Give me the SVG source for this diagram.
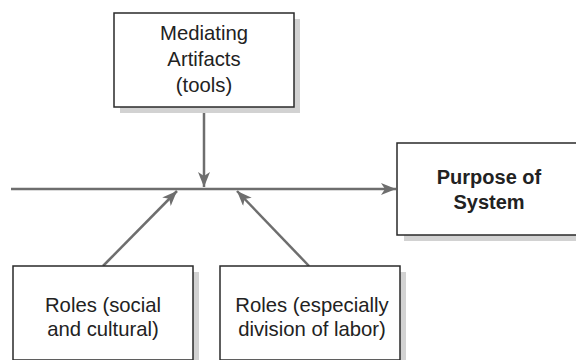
<svg xmlns="http://www.w3.org/2000/svg" width="576" height="360" viewBox="0 0 576 360">
  <defs>
    <marker id="arr" markerUnits="userSpaceOnUse" markerWidth="16" markerHeight="13" refX="15" refY="6" orient="auto">
      <path d="M0,0 L15,6 L0,12 L4,6 z" fill="#6e6e6e"/>
    </marker>
  </defs>
  <style>
    .box { fill: #ffffff; stroke: #2a2a2a; stroke-width: 1.5; }
    .shadow { fill: #d2d2d2; }
    .t { font-family: "Liberation Sans", Arial, sans-serif; font-size: 20.3px; fill: #222222; text-anchor: middle; }
    .b { font-weight: bold; font-size: 20px; }
    .conn { stroke: #6e6e6e; stroke-width: 2.5; fill: none; marker-end: url(#arr); }
  </style>
  <rect width="576" height="360" fill="#ffffff"/>

  <g id="connectors">
    <line class="conn" x1="11" y1="189" x2="396" y2="189"/>
    <line class="conn" x1="204" y1="107" x2="204" y2="187"/>
    <line class="conn" x1="103" y1="266" x2="177" y2="191"/>
    <line class="conn" x1="309" y1="266" x2="237" y2="191"/>
  </g>

  <g id="mediating">
    <rect class="shadow" x="120" y="19" width="180" height="94"/>
    <rect class="box" x="114" y="13" width="180" height="94"/>
    <text class="t" x="204" y="40">Mediating</text>
    <text class="t" x="204" y="66">Artifacts</text>
    <text class="t" x="204" y="92">(tools)</text>
  </g>

  <g id="purpose">
    <rect class="shadow" x="404" y="149" width="184" height="92"/>
    <rect class="box" x="397" y="143" width="184" height="92"/>
    <text class="t b" x="489" y="184">Purpose of</text>
    <text class="t b" x="489" y="208.5">System</text>
  </g>

  <g id="roles-social">
    <rect class="shadow" x="19" y="272" width="180" height="94"/>
    <rect class="box" x="13" y="266" width="180" height="94"/>
    <text class="t" x="103" y="311.5">Roles (social</text>
    <text class="t" x="103" y="336">and cultural)</text>
  </g>

  <g id="roles-division">
    <rect class="shadow" x="226" y="272" width="180" height="94"/>
    <rect class="box" x="220" y="266" width="180" height="94"/>
    <text class="t" x="312" y="311.5">Roles (especially</text>
    <text class="t" x="312" y="336">division of labor)</text>
  </g>
</svg>
